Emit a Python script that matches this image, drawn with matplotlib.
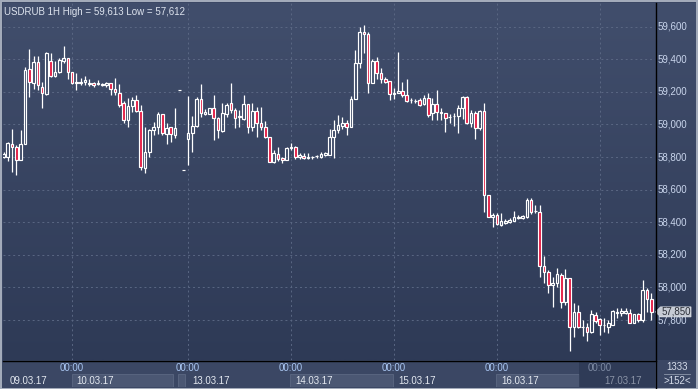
import matplotlib
matplotlib.use('Agg')
import matplotlib.pyplot as plt
import numpy as np
from matplotlib.patches import Rectangle, Polygon
from matplotlib.lines import Line2D
from matplotlib.colors import LinearSegmentedColormap
import matplotlib.transforms as mtransforms

plt.rcParams['font.family'] = ['Liberation Sans', 'DejaVu Sans']

# USDRUB hourly candles, 09.03.17 08:00 .. 17.03.17
opens = [58800, 58800, 58880, 58862, 58782, 58880, 59341, 59255, 59384, 59230,
         59187, 59390, 59298, 59322, 59390, 59408, 59322, 59255, 59255, 59261,
         59249, 59255, 59249, 59242, 59242, 59255, 59218, 59193, 59132, 59028,
         59114, 59150, 59083, 58733, 58831, 58966, 58985, 59064, 58942, 58985,
         58935, 59212, 58721, 58911, 58948, 58991, 59156, 59064, 59064, 59101,
         59040, 58960, 59064, 59132, 59089, 59046, 59034, 59126, 58985, 59083,
         59009, 58985, 58923, 58770, 58819, 58794, 58782, 58856, 58862, 58800,
         58807, 58794, 58800, 58807, 58800, 58813, 58813, 58923, 58966, 58991,
         59009, 58985, 59156, 59377, 59568, 59555, 59255, 59390, 59316, 59279,
         59267, 59187, 59193, 59205, 59181, 59150, 59144, 59150, 59126, 59163,
         59071, 59126, 59077, 59071, 59046, 59052, 59052, 59101, 59169, 59009,
         59071, 58978, 59083, 58567, 58432, 58445, 58383, 58395, 58402, 58408,
         58426, 58426, 58432, 58537, 58469, 58463, 58132, 58095, 58015, 58027,
         58076, 57911, 58058, 57757, 57849, 57757, 57757, 57727, 57831, 57806,
         57769, 57757, 57769, 57843, 57843, 57843, 57843, 57782, 57837, 57800,
         57984, 57929]
highs = [58831, 58893, 58972, 58874, 58966, 59353, 59463, 59420, 59420, 59261,
         59445, 59439, 59390, 59408, 59482, 59408, 59322, 59316, 59285, 59298,
         59279, 59261, 59273, 59255, 59261, 59255, 59285, 59249, 59144, 59163,
         59169, 59181, 59120, 58985, 58972, 59015, 59077, 59064, 59009, 58985,
         59101, 59212, 58721, 59175, 59052, 59169, 59249, 59095, 59101, 59181,
         59046, 59132, 59132, 59255, 59101, 59089, 59181, 59126, 59132, 59107,
         59107, 59021, 58923, 58843, 58862, 58800, 58862, 58886, 58868, 58825,
         58825, 58825, 58807, 58813, 58831, 58831, 58972, 59028, 59058, 59046,
         59028, 59175, 59457, 59598, 59613, 59568, 59402, 59414, 59347, 59291,
         59267, 59224, 59445, 59261, 59279, 59163, 59156, 59163, 59181, 59193,
         59163, 59212, 59101, 59071, 59064, 59071, 59120, 59175, 59175, 59089,
         59083, 59089, 59132, 58567, 58457, 58457, 58457, 58420, 58426, 58469,
         58445, 58445, 58549, 58549, 58506, 58506, 58193, 58107, 58064, 58119,
         58089, 58113, 58058, 57905, 57892, 57800, 57782, 57862, 57849, 57812,
         57812, 57800, 57862, 57874, 57874, 57874, 57868, 57837, 57843, 58046,
         57997, 57966]
lows = [58794, 58776, 58708, 58690, 58782, 58880, 59169, 59218, 59212, 59101,
        59181, 59291, 59291, 59316, 59377, 59279, 59249, 59212, 59242, 59242,
        59236, 59230, 59242, 59236, 59230, 59181, 59181, 59107, 59009, 58985,
        59077, 59077, 58721, 58702, 58800, 58935, 58942, 58935, 58880, 58893,
        58917, 59212, 58721, 58751, 58831, 58985, 59046, 59058, 59064, 58905,
        58917, 58954, 59046, 59071, 58978, 58985, 59028, 58948, 58960, 58923,
        58966, 58917, 58770, 58764, 58776, 58764, 58782, 58843, 58788, 58788,
        58788, 58788, 58788, 58794, 58794, 58807, 58813, 58794, 58948, 58972,
        58935, 58985, 59156, 59347, 59439, 59193, 59255, 59279, 59255, 59255,
        59150, 59156, 59193, 59169, 59138, 59132, 59132, 59114, 59120, 59046,
        59028, 59028, 59028, 58954, 59009, 58991, 58948, 59034, 59003, 58985,
        58911, 58966, 58463, 58432, 58371, 58383, 58377, 58389, 58395, 58408,
        58420, 58420, 58426, 58451, 58457, 58064, 58027, 57966, 57880, 58003,
        57874, 57892, 57612, 57696, 57751, 57702, 57671, 57720, 57782, 57708,
        57727, 57720, 57769, 57812, 57825, 57837, 57782, 57782, 57788, 57788,
        57849, 57800]
closes = [58819, 58886, 58862, 58782, 58880, 59334, 59261, 59384, 59242, 59193,
          59439, 59298, 59322, 59396, 59408, 59322, 59255, 59261, 59261, 59273,
          59255, 59242, 59255, 59249, 59255, 59218, 59199, 59120, 59028, 59114,
          59150, 59083, 58739, 58831, 58966, 58985, 59064, 58948, 58978, 58942,
          58978, 59212, 58721, 58948, 58991, 59156, 59071, 59077, 59101, 59040,
          58966, 59071, 59120, 59089, 59040, 59052, 59126, 58985, 59083, 59009,
          58985, 58923, 58770, 58825, 58788, 58782, 58856, 58862, 58800, 58813,
          58794, 58800, 58800, 58807, 58819, 58825, 58923, 58966, 58997, 59009,
          58985, 59156, 59377, 59568, 59555, 59255, 59390, 59316, 59279, 59261,
          59187, 59193, 59205, 59181, 59144, 59150, 59144, 59120, 59163, 59058,
          59126, 59077, 59071, 59040, 59046, 59052, 59101, 59169, 59009, 59071,
          58978, 59083, 58567, 58432, 58445, 58389, 58408, 58408, 58414, 58432,
          58432, 58438, 58537, 58463, 58469, 58132, 58095, 58015, 58027, 58082,
          57911, 58058, 57757, 57849, 57757, 57757, 57727, 57837, 57794, 57769,
          57769, 57782, 57855, 57849, 57855, 57855, 57782, 57837, 57800, 57984,
          57929, 57850]

price_ticks = [57800, 58000, 58200, 58400, 58600, 58800, 59000, 59200, 59400, 59600]
day_starts = [16, 43, 67, 91, 115, 139]
day_labels = ['09.03.17', '10.03.17', '13.03.17', '14.03.17', '15.03.17', '16.03.17', '17.03.17']
last_price = 57850
total_ticks = 1333

W, H = 698, 389
fs = 7.0
fig = plt.figure(figsize=(W / 100, H / 100), dpi=100)
fig.patch.set_facecolor('#3b4764')

grad = LinearSegmentedColormap.from_list('bg', ['#2e3a56', '#414e6c'])
ramp = np.linspace(0, 1, 256).reshape(-1, 1)

# right price scale panel (made first so the main axes draws over it)
axr = fig.add_axes([655 / W, 29 / H, 43 / W, 357 / H])
axr.imshow(ramp, cmap=grad, origin='lower', extent=[0, 1, 0, 1], aspect='auto')
axr.axis('off')

# main price area
ax = fig.add_axes([3 / W, 29 / H, 652 / W, 357 / H])
ax.imshow(ramp, cmap=grad, origin='lower', extent=[0, 1, 0, 1], transform=ax.transAxes,
          aspect='auto', zorder=0)
ax.set_xlim(-0.12, 151.87)
ax.set_ylim(57554.7, 59745.6)
ax.axis('off')

grid_kw = dict(color='#5a6783', lw=0.7, ls=(0, (2, 3)), zorder=1)
for p in price_ticks:
    ax.axhline(p, **grid_kw)
for d in day_starts:
    ax.axvline(d, **grid_kw)

red = '#e3173f'
bw = 0.62
for i in range(len(opens)):
    o, h, l, c = opens[i], highs[i], lows[i], closes[i]
    top, bot = max(o, c), min(o, c)
    ax.plot([i, i], [top, h], color='white', lw=0.9, zorder=3, solid_capstyle='butt')
    ax.plot([i, i], [l, bot], color='white', lw=0.9, zorder=3, solid_capstyle='butt')
    fc = red if c < o else 'none'
    ax.add_patch(Rectangle((i - bw / 2, bot), bw, top - bot, facecolor=fc,
                           edgecolor='white', lw=0.85, zorder=4))

tr = mtransforms.blended_transform_factory(ax.transAxes, ax.transData)
for p in price_ticks:
    ax.text(1.0046, p, f'{p:,}', transform=tr, fontsize=fs, color='#c9d5ec',
            va='center', ha='left', clip_on=False, zorder=5)

# last price marker
def fx(px):
    return (px - 3) / 652

dp = 5 * 6.137
ax.add_patch(Polygon([(fx(655.5), last_price), (fx(660.5), last_price + dp),
                      (fx(691), last_price + dp), (fx(691), last_price - dp),
                      (fx(660.5), last_price - dp)], closed=True, transform=tr,
                     facecolor='#c6cbd4', edgecolor='#e2e5ea', lw=0.5, clip_on=False, zorder=6))
ax.text(fx(661.5), last_price, f'{last_price:,}', transform=tr, fontsize=fs,
        color='#2b2f38', va='center', ha='left', clip_on=False, zorder=7)

ax.text(0.0015, 0.988, f'USDRUB 1H High = {max(highs):,} Low = {min(lows):,}',
        transform=ax.transAxes, fontsize=fs, color='#dde3ee', va='top', ha='left', zorder=7)

# time axis strip
axb = fig.add_axes([3 / W, 2 / H, 652 / W, 26 / H])
axb.set_facecolor('#3b4764')
axb.set_xlim(ax.get_xlim())
axb.set_ylim(0, 1)
axb.axis('off')
axb.add_patch(Rectangle((0, 0), 1, 1, transform=axb.transAxes, facecolor='#3b4764', zorder=0))

sessions = [0] + day_starts + [152]
for k, lab in enumerate(day_labels):
    s, e = sessions[k], sessions[k + 1]
    if k % 2 == 1 and k < 6:
        end = e - 3.3 if k == 1 else e
        if k == 5:
            end = 134.2
        axb.add_patch(Rectangle((s - 0.15, 0), end - s, 0.5, facecolor='#4b5773',
                                edgecolor='#5b6782', lw=0.6, zorder=1))
    col = '#e3e8f0'
    if k == 6:
        col = '#8a93a6'
    lx = 1.5 if k == 0 else s + 0.95
    axb.text(lx, 0.25, lab, fontsize=fs, color=col, va='center', ha='left', zorder=4)
    if k > 0:
        axb.text(s, 0.74, '00:00', fontsize=fs, color='#a9c6f2' if k < 6 else '#7d8aa3',
                 va='center', ha='center', zorder=4)

# weekend stub box
axb.add_patch(Rectangle((40.7, 0), 1.6, 0.5, facecolor='#4b5773', edgecolor='#5b6782',
                        lw=0.6, zorder=1))
# darker box over the current day
axb.add_patch(Rectangle((134.2, 0), 151.8 - 134.2, 1.0, facecolor='#2e3a55',
                        edgecolor='none', alpha=0.85, zorder=3))

# bar count panel
fig.text(677 / W, 1 - 367 / H, f'{total_ticks}', fontsize=fs, color='#d5dcea', ha='center', va='center')
fig.text(677 / W, 1 - 381 / H, f'>{len(opens)}<', fontsize=fs, color='#d5dcea', ha='center', va='center')
fig.add_artist(Line2D([664 / W, 690 / W], [1 - 374 / H, 1 - 374 / H], color='#8c96aa', lw=0.6))

# frame lines
fig.add_artist(Line2D([655.5 / W, 655.5 / W], [1 / H, 1 - 3 / H], color='black', lw=1.0))
fig.add_artist(Line2D([3 / W, 655.5 / W], [1 - 360.5 / H, 1 - 360.5 / H], color='black', lw=1.0))
fig.add_artist(Rectangle((0.5 / W, 0.5 / H), 1 - 1.5 / W, 1 - 1.5 / H, transform=fig.transFigure,
                         fill=False, edgecolor='#a6aebd', lw=1.4))

fig.savefig('out.png', dpi=100, facecolor=fig.get_facecolor())
